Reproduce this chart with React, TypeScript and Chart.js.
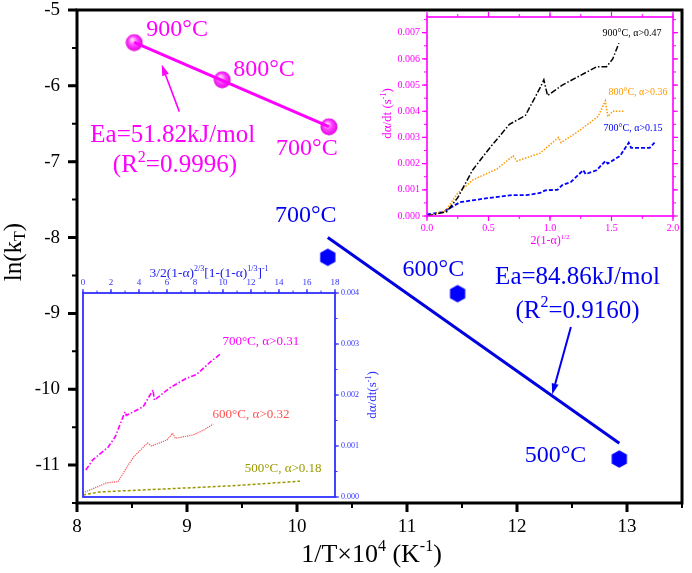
import React, { useEffect, useRef } from "react"
import { Chart, registerables } from "chart.js"

Chart.register(...registerables)

const FONT = '"Liberation Serif", "Times New Roman", serif'
const MAGENTA = "#ff00ff"
const BLUE = "#0000f0"
const INSET_BLUE = "#3030ff"

// main plot: ln(kT) against 1/T x 10^4
const tempsHigh = ["900°C", "800°C", "700°C"]
const invTHigh = [8.52, 9.32, 10.29]
const lnkHigh = [-5.43, -5.92, -6.54]
const tempsLow = ["700°C", "600°C", "500°C"]
const invTLow = [10.28, 11.46, 12.93]
const lnkLow = [-8.26, -8.74, -10.92]
const fitHigh = ["Ea=51.82kJ/mol", "0.9996"]
const fitLow = ["Ea=84.86kJ/mol", "0.9160"]

// top-right inset: da/dt against 2(1-a)^1/2
const x900 = [0, 0.16, 0.25, 0.37, 0.51, 0.67, 0.8, 0.92, 0.95, 0.98, 1.1, 1.3, 1.38, 1.46, 1.51, 1.56]
const y900 = [0, 0.00016, 0.0007, 0.00175, 0.0026, 0.0035, 0.00384, 0.0049, 0.0052, 0.0046, 0.005, 0.0055, 0.0057, 0.0057, 0.006, 0.0066]
const x800 = [0, 0.15, 0.25, 0.37, 0.57, 0.7, 0.73, 0.92, 0.97, 1.07, 1.09, 1.25, 1.39, 1.45, 1.47, 1.51, 1.6]
const y800 = [0, 0.0002, 0.00087, 0.00137, 0.0018, 0.0023, 0.0021, 0.0024, 0.0026, 0.003, 0.0028, 0.0033, 0.0038, 0.0044, 0.0038, 0.004, 0.004]
const x700 = [0, 0.13, 0.27, 0.49, 0.7, 0.81, 0.92, 0.96, 1.06, 1.1, 1.17, 1.27, 1.29, 1.38, 1.45, 1.47, 1.57, 1.64, 1.66, 1.81, 1.85]
const y700 = [0.00006, 0.00015, 0.00053, 0.00068, 0.0008, 0.0008, 0.00088, 0.00098, 0.001, 0.00118, 0.0013, 0.00175, 0.0016, 0.00175, 0.0021, 0.002, 0.0023, 0.0028, 0.0026, 0.0026, 0.0028]
const insetTopLabels = ["900°C, α>0.47", "800°C, α>0.36", "700°C, α>0.15"]

// bottom-left inset: da/dt against 3/2(1-a)^2/3[1-(1-a)^1/3]^-1
const xb700 = [0.2, 0.7, 1.8, 2.3, 3.0, 3.1, 4.3, 5.0, 5.1, 6.2, 7.4, 8.1, 9.1, 9.8]
const yb700 = [0.00053, 0.00073, 0.00098, 0.00118, 0.00167, 0.0016, 0.00177, 0.0021, 0.0019, 0.00214, 0.00233, 0.0024, 0.00265, 0.0028]
const xb600 = [0, 1.2, 1.7, 2.5, 3.1, 3.6, 4.6, 4.9, 6.0, 6.4, 6.6, 7.9, 8.6, 9.3]
const yb600 = [0.00008, 0.00022, 0.00028, 0.0003, 0.00057, 0.00078, 0.00106, 0.001, 0.00112, 0.00125, 0.00115, 0.00122, 0.00131, 0.00143]
const xb500 = [0, 1.2, 6.0, 10.7, 15.5]
const yb500 = [0.00004, 0.0001, 0.00016, 0.00022, 0.00031]
const insetBottomLabels = ["700°C, α>0.31", "600°C, α>0.32", "500°C, α>0.18"]

type Seg = { t: string; sup?: boolean; sub?: boolean }
type Note = { x: number; y: number; segs: Seg[]; color: string; size: number; align: "left" | "center" }

const pts = (xs: number[], ys: number[]) => xs.map((x, i) => ({ x, y: ys[i] }))

function linFit(xs: number[], ys: number[]) {
  const n = xs.length
  const mx = xs.reduce((a, b) => a + b, 0) / n
  const my = ys.reduce((a, b) => a + b, 0) / n
  let sxy = 0
  let sxx = 0
  xs.forEach((x, i) => {
    sxy += (x - mx) * (ys[i] - my)
    sxx += (x - mx) * (x - mx)
  })
  const m = sxy / sxx
  const x0 = Math.min(...xs)
  const x1 = Math.max(...xs)
  return [
    { x: x0, y: my + m * (x0 - mx) },
    { x: x1, y: my + m * (x1 - mx) },
  ]
}

const isStep = (v: number, step: number) => Math.abs(v / step - Math.round(v / step)) < 1e-6

// fixed axis sizes, and no extra label padding pushed into the layout
const fixX = (h: number) => (s: any) => {
  s.height = h
  s.paddingLeft = 0
  s.paddingRight = 0
}
const fixY = (w: number) => (s: any) => {
  s.width = w
  s.paddingTop = 0
  s.paddingBottom = 0
}

function drawRich(ctx: CanvasRenderingContext2D, segs: Seg[], x: number, y: number, size: number, color: string, align: "left" | "center") {
  ctx.save()
  ctx.fillStyle = color
  ctx.textBaseline = "middle"
  ctx.textAlign = "left"
  const fontOf = (s: Seg) => `${s.sup || s.sub ? Math.round(size * 0.62) : size}px ${FONT}`
  let w = 0
  segs.forEach((s) => {
    ctx.font = fontOf(s)
    w += ctx.measureText(s.t).width
  })
  let cx = align === "center" ? x - w / 2 : x
  segs.forEach((s) => {
    ctx.font = fontOf(s)
    const dy = s.sup ? -size * 0.32 : s.sub ? size * 0.28 : 0
    ctx.fillText(s.t, cx, y + dy)
    cx += ctx.measureText(s.t).width
  })
  ctx.restore()
}

function drawRotated(ctx: CanvasRenderingContext2D, segs: Seg[], x: number, y: number, size: number, color: string) {
  ctx.save()
  ctx.translate(x, y)
  ctx.rotate(-Math.PI / 2)
  drawRich(ctx, segs, 0, 0, size, color, "center")
  ctx.restore()
}

function drawTicks(ctx: CanvasRenderingContext2D, chart: any, scale: any, side: string, step: number, len: number, width: number, color: string) {
  const a = chart.chartArea
  ctx.save()
  ctx.strokeStyle = color
  ctx.lineWidth = width
  ctx.beginPath()
  const start = Math.ceil(scale.min / step - 1e-6) * step
  for (let v = start; v <= scale.max + step * 1e-6; v += step) {
    const p = scale.getPixelForValue(v)
    if (side === "bottom") { ctx.moveTo(p, a.bottom); ctx.lineTo(p, a.bottom + len) }
    if (side === "top") { ctx.moveTo(p, a.top); ctx.lineTo(p, a.top - len) }
    if (side === "left") { ctx.moveTo(a.left, p); ctx.lineTo(a.left - len, p) }
    if (side === "right") { ctx.moveTo(a.right, p); ctx.lineTo(a.right + len, p) }
  }
  ctx.stroke()
  ctx.restore()
}

function drawArrow(ctx: CanvasRenderingContext2D, x0: number, y0: number, x1: number, y1: number, color: string, width: number) {
  const ang = Math.atan2(y1 - y0, x1 - x0)
  const hl = 11
  const hw = 3.5
  const bx = x1 - Math.cos(ang) * hl
  const by = y1 - Math.sin(ang) * hl
  ctx.save()
  ctx.strokeStyle = color
  ctx.fillStyle = color
  ctx.lineWidth = width
  ctx.beginPath()
  ctx.moveTo(x0, y0)
  ctx.lineTo(bx, by)
  ctx.stroke()
  ctx.beginPath()
  ctx.moveTo(x1, y1)
  ctx.lineTo(bx - Math.sin(ang) * hw, by + Math.cos(ang) * hw)
  ctx.lineTo(bx + Math.sin(ang) * hw, by - Math.cos(ang) * hw)
  ctx.closePath()
  ctx.fill()
  ctx.restore()
}

function drawNotes(chart: any, notes: Note[]) {
  const { ctx, scales } = chart
  notes.forEach((n) => {
    drawRich(ctx, n.segs, scales.x.getPixelForValue(n.x), scales.y.getPixelForValue(n.y), n.size, n.color, n.align)
  })
}

function sphereStyle() {
  const c = document.createElement("canvas")
  c.width = 18
  c.height = 18
  const g = c.getContext("2d")!
  const grad = g.createRadialGradient(7, 6, 1, 9, 9, 9)
  grad.addColorStop(0, "#ffd0ff")
  grad.addColorStop(0.45, "#ff40ff")
  grad.addColorStop(1, "#e000e0")
  g.fillStyle = grad
  g.beginPath()
  g.arc(9, 9, 8.5, 0, Math.PI * 2)
  g.fill()
  return c
}

function hexStyle() {
  const c = document.createElement("canvas")
  c.width = 20
  c.height = 20
  const g = c.getContext("2d")!
  g.fillStyle = "#0000ff"
  g.beginPath()
  for (let i = 0; i < 6; i++) {
    const ang = Math.PI / 6 + (i * Math.PI) / 3
    const px = 10 + 8.8 * Math.cos(ang)
    const py = 10 + 8.8 * Math.sin(ang)
    if (i === 0) g.moveTo(px, py)
    else g.lineTo(px, py)
  }
  g.closePath()
  g.fill()
  return c
}

const sup = (t: string): Seg => ({ t, sup: true })

const mainNotes: Note[] = [
  { x: 8.63, y: -5.26, segs: [{ t: tempsHigh[0] }], color: MAGENTA, size: 24, align: "left" },
  { x: 9.42, y: -5.79, segs: [{ t: tempsHigh[1] }], color: MAGENTA, size: 24, align: "left" },
  { x: 9.81, y: -6.83, segs: [{ t: tempsHigh[2] }], color: MAGENTA, size: 24, align: "left" },
  { x: 8.87, y: -6.66, segs: [{ t: fitHigh[0] }], color: MAGENTA, size: 25, align: "center" },
  { x: 8.89, y: -7.05, segs: [{ t: "(R" }, sup("2"), { t: "=" + fitHigh[1] + ")" }], color: MAGENTA, size: 25, align: "center" },
  { x: 9.8, y: -7.71, segs: [{ t: tempsLow[0] }], color: BLUE, size: 24, align: "left" },
  { x: 10.96, y: -8.42, segs: [{ t: tempsLow[1] }], color: BLUE, size: 24, align: "left" },
  { x: 12.07, y: -10.87, segs: [{ t: tempsLow[2] }], color: BLUE, size: 24, align: "left" },
  { x: 12.55, y: -8.53, segs: [{ t: fitLow[0] }], color: BLUE, size: 25, align: "center" },
  { x: 12.55, y: -8.97, segs: [{ t: "(R" }, sup("2"), { t: "=" + fitLow[1] + ")" }], color: BLUE, size: 25, align: "center" },
]

const topNotes: Note[] = [
  { x: 1.667, y: 0.00696, segs: [{ t: insetTopLabels[0] }], color: "#000", size: 10, align: "center" },
  { x: 1.715, y: 0.00472, segs: [{ t: insetTopLabels[1] }], color: "#ff9900", size: 10, align: "center" },
  { x: 1.675, y: 0.00335, segs: [{ t: insetTopLabels[2] }], color: "#0000ff", size: 10, align: "center" },
]

const bottomNotes: Note[] = [
  { x: 12.7, y: 0.00304, segs: [{ t: insetBottomLabels[0] }], color: MAGENTA, size: 13, align: "center" },
  { x: 12.0, y: 0.00161, segs: [{ t: insetBottomLabels[1] }], color: "#ff5050", size: 13, align: "center" },
  { x: 14.3, y: 0.00055, segs: [{ t: insetBottomLabels[2] }], color: "#999900", size: 13, align: "center" },
]

function buildMain(canvas: HTMLCanvasElement) {
  const overlay = {
    id: "mainOverlay",
    afterDraw(chart: any) {
      const { ctx, chartArea: a, scales } = chart
      drawTicks(ctx, chart, scales.x, "bottom", 1, 9, 3, "#000")
      drawTicks(ctx, chart, scales.x, "bottom", 0.5, 5, 2, "#000")
      drawTicks(ctx, chart, scales.y, "left", 1, 9, 3, "#000")
      drawTicks(ctx, chart, scales.y, "left", 0.5, 5, 2, "#000")
      ctx.save()
      ctx.lineWidth = 3
      ctx.strokeStyle = "#000"
      ctx.strokeRect(a.left, a.top, a.right - a.left, a.bottom - a.top)
      ctx.restore()
      drawRich(ctx, [{ t: "1/T×10" }, sup("4"), { t: " (K" }, sup("-1"), { t: ")" }], (a.left + a.right) / 2 - 8, a.bottom + 52, 26, "#000", "center")
      drawRotated(ctx, [{ t: "ln(k" }, { t: "T", sub: true }, { t: ")" }], 14, 252, 25, "#000")
      drawNotes(chart, mainNotes)
      const px = (v: number) => scales.x.getPixelForValue(v)
      const py = (v: number) => scales.y.getPixelForValue(v)
      drawArrow(ctx, px(8.93), py(-6.34), px(8.77), py(-5.72), MAGENTA, 1.6)
      drawArrow(ctx, px(12.49), py(-9.18), px(12.32), py(-10.07), BLUE, 2)
    },
  }
  return new Chart(canvas, {
    type: "scatter",
    data: {
      datasets: [
        { data: linFit(invTHigh, lnkHigh), showLine: true, borderColor: MAGENTA, borderWidth: 3, pointRadius: 0 },
        { data: pts(invTHigh, lnkHigh), pointStyle: sphereStyle() as any, pointRadius: 9 },
        { data: linFit(invTLow, lnkLow), showLine: true, borderColor: "#0000e0", borderWidth: 3, pointRadius: 0 },
        { data: pts(invTLow, lnkLow), pointStyle: hexStyle() as any, pointRadius: 9 },
      ],
    },
    options: {
      animation: false,
      responsive: false,
      layout: { padding: { left: 0, top: 10, right: 4, bottom: 0 } },
      plugins: { legend: { display: false }, tooltip: { enabled: false } },
      scales: {
        x: {
          type: "linear",
          min: 8,
          max: 13.5,
          grid: { display: false, drawTicks: false },
          border: { display: false },
          ticks: { stepSize: 0.5, autoSkip: false, maxRotation: 0, padding: 13, color: "#000", font: { family: FONT, size: 19 }, callback: (v: any) => (isStep(v, 1) ? String(v) : "") },
          afterFit: fixX(70),
        },
        y: {
          type: "linear",
          min: -11.5,
          max: -5,
          grid: { display: false, drawTicks: false },
          border: { display: false },
          ticks: { stepSize: 0.5, autoSkip: false, padding: 17, color: "#000", font: { family: FONT, size: 19 }, callback: (v: any) => (isStep(v, 1) ? String(v) : "") },
          afterFit: fixY(77),
        },
      },
    },
    plugins: [overlay],
  })
}

function buildTopInset(canvas: HTMLCanvasElement) {
  const overlay = {
    id: "topOverlay",
    afterDraw(chart: any) {
      const { ctx, chartArea: a, scales } = chart
      ;["bottom", "top"].forEach((s) => {
        drawTicks(ctx, chart, scales.x, s, 0.5, 5, 1.2, MAGENTA)
        drawTicks(ctx, chart, scales.x, s, 0.25, 3, 1, MAGENTA)
      })
      ;["left", "right"].forEach((s) => {
        drawTicks(ctx, chart, scales.y, s, 0.001, 5, 1.2, MAGENTA)
        drawTicks(ctx, chart, scales.y, s, 0.0005, 3, 1, MAGENTA)
      })
      ctx.save()
      ctx.lineWidth = 1.6
      ctx.strokeStyle = MAGENTA
      ctx.strokeRect(a.left, a.top, a.right - a.left, a.bottom - a.top)
      ctx.restore()
      drawRich(ctx, [{ t: "2(1-α)" }, sup("1/2")], (a.left + a.right) / 2, a.bottom + 25, 12, MAGENTA, "center")
      drawRotated(ctx, [{ t: "dα/dt (s" }, sup("-1"), { t: ")" }], 8, (a.top + a.bottom) / 2 - 3, 13, MAGENTA)
      drawNotes(chart, topNotes)
    },
  }
  return new Chart(canvas, {
    type: "scatter",
    data: {
      datasets: [
        { data: pts(x900, y900), showLine: true, borderColor: "#000", borderWidth: 1.5, borderDash: [6, 2, 1.5, 2], pointRadius: 0 },
        { data: pts(x800, y800), showLine: true, borderColor: "#ff9900", borderWidth: 1.5, borderDash: [1.5, 1.5], pointRadius: 0 },
        { data: pts(x700, y700), showLine: true, borderColor: "#0000ff", borderWidth: 1.8, borderDash: [4, 2], pointRadius: 0 },
      ],
    },
    options: {
      animation: false,
      responsive: false,
      layout: { padding: { left: 0, top: 5, right: 12, bottom: 0 } },
      plugins: { legend: { display: false }, tooltip: { enabled: false } },
      scales: {
        x: {
          type: "linear",
          min: 0,
          max: 2,
          grid: { display: false, drawTicks: false },
          border: { display: false },
          ticks: { stepSize: 0.5, autoSkip: false, maxRotation: 0, padding: 6, color: MAGENTA, font: { family: FONT, size: 10 }, callback: (v: any) => (isStep(v, 0.5) ? Number(v).toFixed(1) : "") },
          afterFit: fixX(31),
        },
        y: {
          type: "linear",
          min: 0,
          max: 0.0076,
          grid: { display: false, drawTicks: false },
          border: { display: false },
          ticks: { stepSize: 0.0005, autoSkip: false, padding: 7, color: MAGENTA, font: { family: FONT, size: 10 }, callback: (v: any) => (isStep(v, 0.001) ? Number(v).toFixed(3) : "") },
          afterFit: fixY(47),
        },
      },
    },
    plugins: [overlay],
  })
}

function buildBottomInset(canvas: HTMLCanvasElement) {
  const overlay = {
    id: "bottomOverlay",
    afterDraw(chart: any) {
      const { ctx, chartArea: a, scales } = chart
      drawTicks(ctx, chart, scales.x, "top", 2, 4, 1.2, INSET_BLUE)
      drawTicks(ctx, chart, scales.x, "top", 1, 2.5, 1, INSET_BLUE)
      drawTicks(ctx, chart, scales.y, "right", 0.001, 4, 1.2, INSET_BLUE)
      drawTicks(ctx, chart, scales.y, "right", 0.0005, 2.5, 1, INSET_BLUE)
      ctx.save()
      ctx.lineWidth = 1.8
      ctx.strokeStyle = INSET_BLUE
      ctx.strokeRect(a.left, a.top, a.right - a.left, a.bottom - a.top)
      ctx.restore()
      drawRich(
        ctx,
        [{ t: "3/2(1-α)" }, sup("2/3"), { t: "[1-(1-α)" }, sup("1/3"), { t: "]" }, sup("-1")],
        (a.left + a.right) / 2,
        a.top - 20,
        13.5,
        "#2020ee",
        "center"
      )
      drawRotated(ctx, [{ t: "dα/dt(s" }, sup("-1"), { t: ")" }], a.right + 38, (a.top + a.bottom) / 2, 13, INSET_BLUE)
      drawNotes(chart, bottomNotes)
    },
  }
  return new Chart(canvas, {
    type: "scatter",
    data: {
      datasets: [
        { data: pts(xb700, yb700), showLine: true, borderColor: MAGENTA, borderWidth: 1.6, borderDash: [5, 2, 1.5, 2], pointRadius: 0 },
        { data: pts(xb600, yb600), showLine: true, borderColor: "#ff5050", borderWidth: 1.2, borderDash: [1.2, 1], pointRadius: 0 },
        { data: pts(xb500, yb500), showLine: true, borderColor: "#999900", borderWidth: 1.5, borderDash: [3, 2], pointRadius: 0 },
      ],
    },
    options: {
      animation: false,
      responsive: false,
      layout: { padding: { left: 3, top: 0, right: 0, bottom: 5 } },
      plugins: { legend: { display: false }, tooltip: { enabled: false } },
      scales: {
        x: {
          type: "linear",
          position: "top",
          min: 0,
          max: 18,
          grid: { display: false, drawTicks: false },
          border: { display: false },
          ticks: { stepSize: 2, padding: 5, color: INSET_BLUE, font: { family: FONT, size: 9 }, maxRotation: 0, autoSkip: false },
          afterFit: fixX(31),
        },
        y: {
          type: "linear",
          position: "right",
          min: 0,
          max: 0.004,
          grid: { display: false, drawTicks: false },
          border: { display: false },
          ticks: { stepSize: 0.001, autoSkip: false, padding: 6, color: INSET_BLUE, font: { family: FONT, size: 8 }, callback: (v: any) => (isStep(v, 0.001) ? Number(v).toFixed(3) : "") },
          afterFit: fixY(45),
        },
      },
    },
    plugins: [overlay],
  })
}

const ChartCanvas: React.FC<{
  build: (c: HTMLCanvasElement) => Chart
  left: number
  top: number
  width: number
  height: number
}> = ({ build, left, top, width, height }) => {
  const ref = useRef<HTMLCanvasElement>(null)

  useEffect(() => {
    if (!ref.current) return
    const chart = build(ref.current)
    return () => {
      chart.destroy()
    }
  }, [])

  return <canvas ref={ref} width={width} height={height} style={{ position: "absolute", left, top, width, height }} />
}

export default function App() {
  return (
    <div style={{ position: "absolute", left: 0, top: 0, width: 692, height: 573, background: "#fff", overflow: "hidden" }}>
      <ChartCanvas build={buildMain} left={0} top={0} width={692} height={573} />
      <ChartCanvas build={buildTopInset} left={380} top={12} width={305} height={235} />
      <ChartCanvas build={buildBottomInset} left={80} top={262} width={300} height={240} />
    </div>
  )
}
